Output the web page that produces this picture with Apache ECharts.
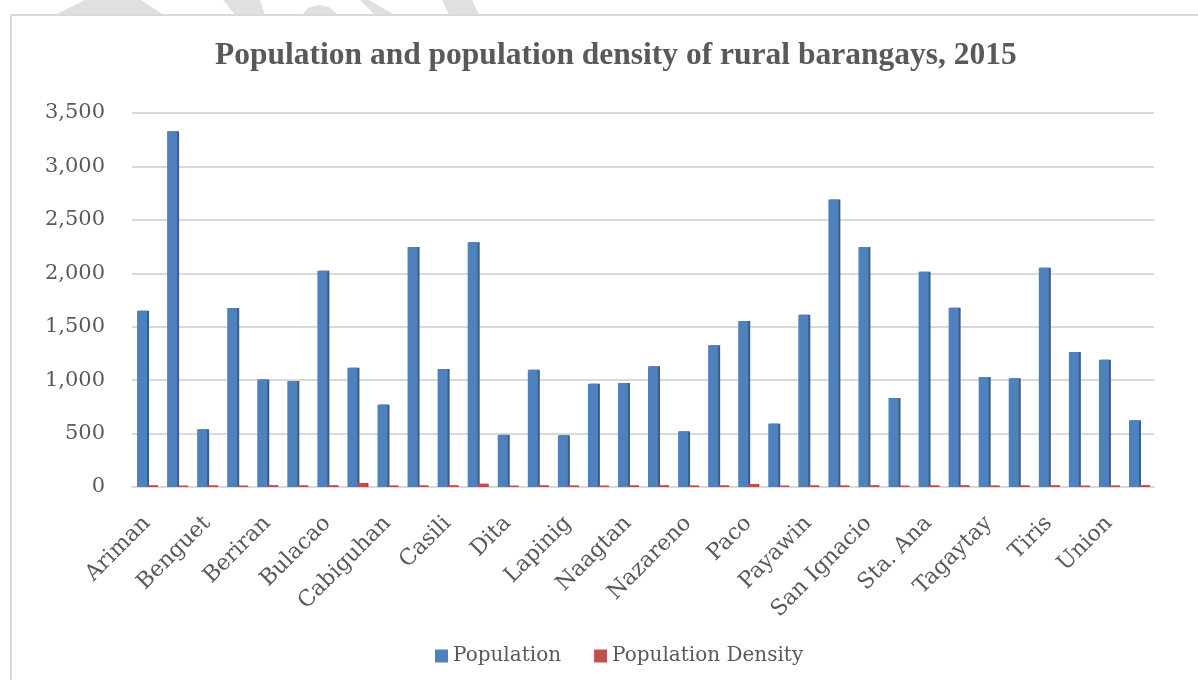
<!DOCTYPE html>
<html>
<head>
<meta charset="utf-8">
<script src="https://cdn.jsdelivr.net/npm/echarts@6/dist/echarts.min.js"></script>
<style>
  html, body { margin: 0; padding: 0; background: #fff; }
  #chart { width: 1198px; height: 680px; }
</style>
</head>
<body>
<div id="chart"></div>
<script>
// 乡村 barangays（34 个，轴上隔一个显示名称）
var barangays = [
  'Ariman', 'Bagacay', 'Benguet', 'Bentuco', 'Beriran', 'Buenavista',
  'Bulacao', 'Cabigaan', 'Cabiguhan', 'Carriedo', 'Casili', 'Cota na Daco',
  'Dita', 'Jupi', 'Lapinig', 'Luna-Candol', 'Naagtan', 'Nato',
  'Nazareno', 'Ogao', 'Paco', 'Panganiban', 'Payawin', 'Rizal',
  'San Ignacio', 'Sangat', 'Sta. Ana', 'Tabi', 'Tagaytay', 'Tigkiw',
  'Tiris', 'Togawe', 'Union', 'Villareal'
];

// 人口
var population = [
  1650, 3330, 540, 1675, 1005, 992, 2024, 1117, 771, 2245,
  1104, 2290, 488, 1098, 484, 967, 973, 1129, 521, 1326,
  1553, 593, 1613, 2691, 2245, 833, 2015, 1678, 1029, 1017,
  2052, 1263, 1192, 624
];

// 人口密度
var density = [
  15, 12, 14, 12, 16, 14, 15, 38, 13, 14,
  15, 30, 12, 14, 13, 12, 14, 15, 13, 14,
  28, 12, 14, 13, 15, 12, 14, 15, 13, 14,
  15, 12, 13, 16
];

var yTicks = { min: 0, max: 3500, interval: 500 };

var cText = '#595959';
var cGrid = '#d9d9d9';
var cMark = '#e0e0e0';

var oChart = echarts.init(document.getElementById('chart'));

var oOption = {
  backgroundColor: '#fff',
  animation: false,
  title: {
    text: 'Population and population density of rural barangays, 2015',
    left: 210,
    top: 35,
    textStyle: {
      fontFamily: 'Liberation Serif',
      fontWeight: 'bold',
      fontSize: 31.5,
      color: cText
    }
  },
  legend: {
    left: 430,
    top: 641,
    icon: 'rect',
    itemWidth: 13,
    itemHeight: 13,
    itemGap: 33,
    textStyle: { fontFamily: 'DejaVu Serif', fontSize: 20, color: cText },
    data: ['Population', 'Population Density']
  },
  graphic: [
    // 顶部浅灰色水印残片
    { type: 'polygon', silent: true, shape: { points: [[55, 15], [85, 0], [141, 0], [164, 15]] }, style: { fill: cMark } },
    { type: 'polygon', silent: true, shape: { points: [[223, 0], [260, 0], [265, 15], [235, 15]] }, style: { fill: cMark } },
    { type: 'polygon', silent: true, shape: { points: [[302, 15], [308, 8], [318, 5], [329, 7], [338, 15]] }, style: { fill: cMark } },
    { type: 'polygon', silent: true, shape: { points: [[360, 0], [369, 0], [395, 15], [375, 15]] }, style: { fill: cMark } },
    { type: 'polygon', silent: true, shape: { points: [[442, 0], [472, 0], [479, 15], [449, 15]] }, style: { fill: cMark } },
    // 图表外框
    { type: 'rect', silent: true, shape: { x: 11, y: 15, width: 1220, height: 700 }, style: { fill: '#fff', stroke: cGrid, lineWidth: 2 } }
  ],
  grid: { left: 132, right: 44, top: 113, bottom: 193 },
  xAxis: {
    type: 'category',
    data: barangays,
    axisLine: { show: true, lineStyle: { color: cGrid, width: 2 } },
    axisTick: { show: false },
    axisLabel: {
      interval: 1,
      rotate: 45,
      margin: 33,
      fontFamily: 'DejaVu Serif',
      fontSize: 22,
      color: cText
    }
  },
  yAxis: {
    type: 'value',
    min: yTicks.min,
    max: yTicks.max,
    interval: yTicks.interval,
    axisLine: { show: false },
    axisTick: { show: false },
    splitLine: { lineStyle: { color: cGrid, width: 2 } },
    axisLabel: {
      margin: 27,
      fontFamily: 'DejaVu Serif',
      fontSize: 21,
      color: cText,
      formatter: function (v) { return v.toLocaleString('en-US'); }
    }
  },
  series: [
    {
      name: 'Population',
      type: 'bar',
      data: population,
      barWidth: 10,
      barGap: '0%',
      itemStyle: {
        color: '#4F81BD',
        shadowColor: '#385D8A',
        shadowOffsetX: 2,
        shadowOffsetY: 0,
        shadowBlur: 0
      }
    },
    {
      name: 'Population Density',
      type: 'bar',
      data: density,
      barWidth: 10,
      barGap: '0%',
      itemStyle: {
        color: '#C0504D',
        shadowColor: '#8C3836',
        shadowOffsetX: 1,
        shadowBlur: 0
      }
    }
  ]
};

oChart.setOption(oOption);
</script>
</body>
</html>
